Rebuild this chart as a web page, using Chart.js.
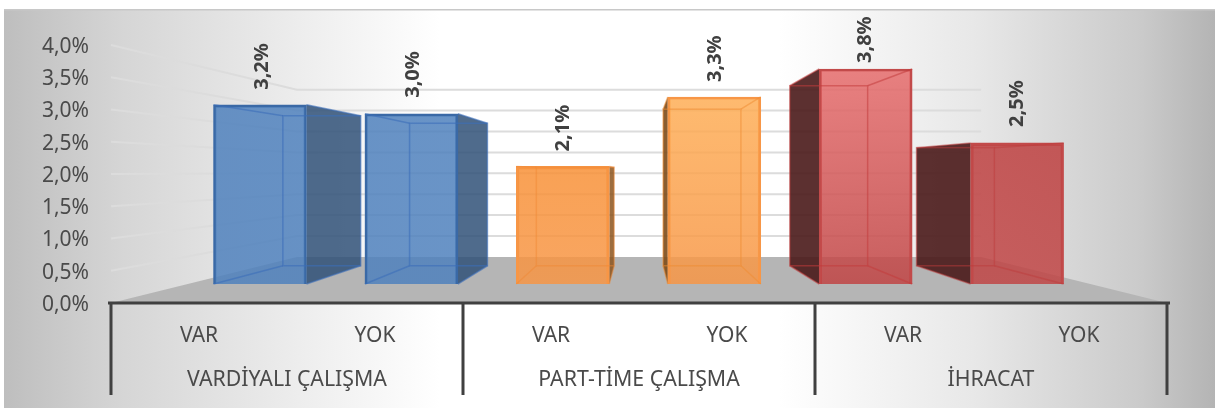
<!DOCTYPE html>
<html lang="tr">
<head>
<meta charset="utf-8">
<title>Vardiyalı çalışma, part-time çalışma, ihracat</title>
<script src="https://cdn.jsdelivr.net/npm/chart.js@4"></script>
<style>
    html, body { margin: 0; padding: 0; background: #fff; }
    #wrap { width: 1215px; height: 408px; }
</style>
</head>
<body>
<div id="wrap"><canvas id="chart" width="1215" height="408"></canvas></div>
<script>
// Data
const categories = ["VAR", "YOK", "VAR", "YOK", "VAR", "YOK"];
const groupNames = ["VARDİYALI ÇALIŞMA", "PART-TİME ÇALIŞMA", "İHRACAT"];
const values = [3.2, 3.04, 2.1, 3.34, 3.84, 2.52];
const barSlots = [0, 1, 2, 3, 4, 5];

// Styles per bar
const faceTop = ["rgba(79,129,189,.85)", "rgba(79,129,189,.85)", "rgba(248,145,55,.85)", "rgba(254,174,86,.85)", "rgba(230,108,108,.85)", "rgba(190,64,64,.85)"];
const faceBottom = ["rgba(79,129,189,.85)", "rgba(79,129,189,.85)", "rgba(247,150,70,.85)", "rgba(247,150,70,.85)", "rgba(192,68,68,.85)", "rgba(192,70,70,.85)"];
const edgeColors = ["#3a69a6", "#3a69a6", "#f79646", "#f79646", "#c24a4a", "#c24a4a"];
const innerColors = ["rgba(60,110,185,.6)", "rgba(60,110,185,.6)", "rgba(240,135,50,.45)", "rgba(240,140,50,.5)", "rgba(195,60,60,.55)", "rgba(190,60,60,.5)"];
const sideColors = ["rgba(48,81,120,.85)", "rgba(48,81,120,.85)", "rgba(140,85,30,.85)", "rgba(125,75,25,.9)", "rgba(74,25,25,.9)", "rgba(74,25,25,.9)"];
const labelGaps = [15, 16, 15, 15, 6, 16];
const labelShifts = [2, 2, 0, 1, 0, 0];

const FONT = '"Noto Sans", sans-serif';
const TEXT = "#4a4a4a";
const AXIS = "#404040";

// Perspective of the 3D box: everything runs to one vanishing point
const VANISH_Y = 172;
const WALL_DEPTH = 0.648;
const BAR_DEPTH = 0.837;

function pct(v) {
    return v.toFixed(1).replace(".", ",") + "%";
}

function toBack(x, y, area, depth) {
    const vx = (area.left + area.right) / 2;
    return [vx + (x - vx) * depth, VANISH_Y + (y - VANISH_Y) * depth];
}

function poly(ctx, pts) {
    ctx.beginPath();
    pts.forEach((p, i) => i ? ctx.lineTo(p[0], p[1]) : ctx.moveTo(p[0], p[1]));
    ctx.closePath();
}

const box3d = {
    id: "box3d",
    beforeDraw(chart) {
        const ctx = chart.ctx;
        const g = ctx.createLinearGradient(4, 0, 1215, 0);
        g.addColorStop(0, "#bebebe");
        g.addColorStop(0.1, "#d6d6d6");
        g.addColorStop(0.25, "#eeeeee");
        g.addColorStop(0.36, "#ffffff");
        g.addColorStop(0.64, "#ffffff");
        g.addColorStop(0.8, "#e8e8e8");
        g.addColorStop(0.94, "#cacaca");
        g.addColorStop(1, "#b4b4b4");
        ctx.save();
        ctx.fillStyle = g;
        ctx.fillRect(4, 9, 1211, 399);
        ctx.fillStyle = "#c8c8c8";
        ctx.fillRect(4, 9, 1211, 1.5);
        ctx.restore();
    },
    beforeDatasetsDraw(chart) {
        const ctx = chart.ctx;
        const area = chart.chartArea;
        const yAxis = chart.scales.y;
        ctx.save();

        // walls
        ctx.lineWidth = 2;
        yAxis.ticks.forEach((t) => {
            if (t.value === 0) return;
            const y = yAxis.getPixelForValue(t.value);
            const back = toBack(area.left, y, area, WALL_DEPTH);
            const backR = toBack(area.right, y, area, WALL_DEPTH);
            ctx.strokeStyle = "#dcdcdc";
            ctx.beginPath();
            ctx.moveTo(area.left, y);
            ctx.lineTo(back[0], back[1]);
            ctx.lineTo(backR[0], backR[1]);
            ctx.stroke();
        });

        // floor
        const fl = toBack(area.left, area.bottom, area, WALL_DEPTH);
        const fr = toBack(area.right, area.bottom, area, WALL_DEPTH);
        ctx.fillStyle = "#b5b5b5";
        poly(ctx, [[area.left, area.bottom], fl, fr, [area.right, area.bottom]]);
        ctx.fill();

        // side faces go under the front face
        const vx = (area.left + area.right) / 2;
        chart.getDatasetMeta(0).data.forEach((bar, i) => {
            const left = bar.x - bar.width / 2;
            const right = bar.x + bar.width / 2;
            const sx = right < vx ? right : left;
            const a = toBack(sx, bar.y, area, BAR_DEPTH);
            const b = toBack(sx, bar.base, area, BAR_DEPTH);
            ctx.fillStyle = sideColors[i];
            poly(ctx, [[sx, bar.y], a, b, [sx, bar.base]]);
            ctx.fill();
        });
        ctx.restore();
    },
    afterDatasetsDraw(chart) {
        const ctx = chart.ctx;
        const area = chart.chartArea;
        const x = chart.scales.x;
        ctx.save();

        // back edges of the bars, seen through the front face
        chart.getDatasetMeta(0).data.forEach((bar, i) => {
            const left = bar.x - bar.width / 2;
            const right = bar.x + bar.width / 2;
            const tl = toBack(left, bar.y, area, BAR_DEPTH);
            const tr = toBack(right, bar.y, area, BAR_DEPTH);
            const bl = toBack(left, bar.base, area, BAR_DEPTH);
            const br = toBack(right, bar.base, area, BAR_DEPTH);
            ctx.strokeStyle = innerColors[i];
            ctx.lineWidth = 1.5;
            ctx.strokeRect(tl[0], tl[1], tr[0] - tl[0], bl[1] - tl[1]);
            ctx.beginPath();
            ctx.moveTo(left, bar.y); ctx.lineTo(tl[0], tl[1]);
            ctx.moveTo(right, bar.y); ctx.lineTo(tr[0], tr[1]);
            ctx.moveTo(left, bar.base); ctx.lineTo(bl[0], bl[1]);
            ctx.moveTo(right, bar.base); ctx.lineTo(br[0], br[1]);
            ctx.stroke();

            // value label, turned on its side
            ctx.save();
            ctx.translate(bar.x + labelShifts[i], bar.y - labelGaps[i]);
            ctx.rotate(-Math.PI / 2);
            ctx.font = "bold 20px " + FONT;
            ctx.fillStyle = "#404040";
            ctx.textAlign = "left";
            ctx.textBaseline = "middle";
            ctx.fillText(pct(values[i]), 0, 0);
            ctx.restore();
        });

        // axis line and group separators
        ctx.strokeStyle = AXIS;
        ctx.lineWidth = 3;
        ctx.beginPath();
        ctx.moveTo(area.left - 3, area.bottom);
        ctx.lineTo(area.right + 3, area.bottom);
        ctx.stroke();
        const slot = (x.getPixelForValue(1) - x.getPixelForValue(0));
        ctx.beginPath();
        for (let g = 0; g <= groupNames.length; g++) {
            const px = area.left + g * 2 * slot;
            ctx.moveTo(px, area.bottom);
            ctx.lineTo(px, 395);
        }
        ctx.stroke();

        // group names
        ctx.font = "21.3px " + FONT;
        ctx.fillStyle = TEXT;
        ctx.textAlign = "center";
        ctx.textBaseline = "middle";
        groupNames.forEach((name, g) => {
            const px = (x.getPixelForValue(g * 2) + x.getPixelForValue(g * 2 + 1)) / 2;
            ctx.fillText(name, px, 380);
        });
        ctx.restore();
    }
};

new Chart(document.getElementById("chart"), {
    type: "bar",
    data: {
        labels: categories,
        datasets: [{
            xAxisID: "bars",
            yAxisID: "barsY",
            data: values.map((v, i) => ({ x: barSlots[i], y: v })),
            barThickness: 93,
            borderWidth: 2.5,
            borderColor: edgeColors,
            backgroundColor(c) {
                const area = c.chart.chartArea;
                const i = c.dataIndex;
                if (!area) return faceBottom[i];
                const s = c.chart.scales.barsY;
                const g = c.chart.ctx.createLinearGradient(0, s.getPixelForValue(values[i]), 0, s.getPixelForValue(0));
                g.addColorStop(0, faceTop[i]);
                g.addColorStop(1, faceBottom[i]);
                return g;
            }
        }]
    },
    options: {
        responsive: false,
        animation: false,
        events: [],
        layout: { autoPadding: false, padding: { left: 0, top: 45, right: 48, bottom: 0 } },
        plugins: { legend: { display: false }, tooltip: { enabled: false } },
        scales: {
            x: {
                type: "category",
                grid: { display: false },
                border: { display: false },
                afterFit(s) { s.height = 105; },
                ticks: {
                    autoSkip: false, maxRotation: 0, padding: 12,
                    color: TEXT, font: { family: FONT, size: 21 }
                }
            },
            y: {
                min: 0, max: 4,
                grid: { display: false },
                border: { display: false },
                afterFit(s) { s.width = 111; },
                ticks: {
                    stepSize: 0.5, padding: 14, labelOffset: 2,
                    color: TEXT, font: { family: FONT, size: 21 },
                    callback: (v) => pct(v)
                }
            },
            // the bars stand on a plane further back than the axis, so they get their own hidden scales
            bars: { type: "linear", display: false, offset: false, min: -0.984, max: 5.99 },
            barsY: { type: "linear", display: false, min: -0.339, max: 4.268 }
        }
    },
    plugins: [box3d]
});
</script>
</body>
</html>
